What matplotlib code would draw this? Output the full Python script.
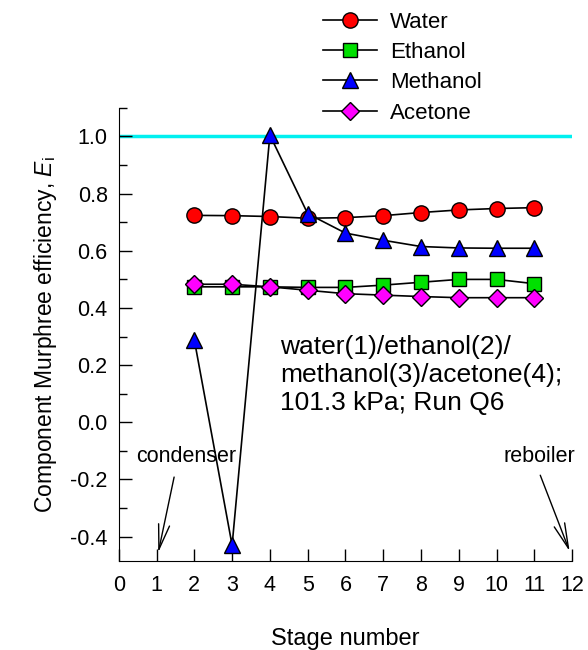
import matplotlib
matplotlib.use("Agg")
import matplotlib.pyplot as plt
from matplotlib.ticker import MultipleLocator

plt.rcParams['font.family'] = ['Liberation Sans', 'DejaVu Sans']
plt.rcParams['axes.unicode_minus'] = False
plt.rcParams['mathtext.fontset'] = 'custom'
plt.rcParams['mathtext.it'] = 'Liberation Sans:italic'
plt.rcParams['mathtext.rm'] = 'Liberation Sans'

stages = [2, 3, 4, 5, 6, 7, 8, 9, 10, 11]
water = [0.724, 0.723, 0.720, 0.714, 0.716, 0.723, 0.734, 0.743, 0.748, 0.751]
ethanol = [0.474, 0.474, 0.474, 0.472, 0.472, 0.480, 0.490, 0.500, 0.500, 0.485]
methanol = [0.288, -0.43, 1.005, 0.73, 0.662, 0.637, 0.615, 0.610, 0.609, 0.609]
acetone = [0.483, 0.483, 0.474, 0.462, 0.450, 0.445, 0.440, 0.436, 0.436, 0.436]

fig = plt.figure(figsize=(5.88, 6.5), dpi=100)
ax = fig.add_axes([0.202, 0.137, 0.771, 0.697])

ax.axhline(1.0, color='#00f0f0', lw=2.5, zorder=1)

line = dict(color='black', lw=1.2, markeredgecolor='black', markeredgewidth=1)
ax.plot(stages, water, marker='o', markersize=11, markerfacecolor='red', label='Water', **line)
ax.plot(stages, ethanol, marker='s', markersize=10, markerfacecolor='#00e000', label='Ethanol', **line)
ax.plot(stages, methanol, marker='^', markersize=11, markerfacecolor='blue', label='Methanol', **line)
ax.plot(stages, acetone, marker='D', markersize=9.5, markerfacecolor='magenta', label='Acetone', **line)

ax.set_xlim(0, 12)
ax.set_ylim(-0.485, 1.1)
ax.xaxis.set_major_locator(MultipleLocator(1))
ax.yaxis.set_major_locator(MultipleLocator(0.2))
ax.yaxis.set_minor_locator(MultipleLocator(0.1))
ax.yaxis.set_major_formatter(matplotlib.ticker.FormatStrFormatter('%.1f'))
ax.tick_params(direction='in', length=9, width=1, labelsize=15.5, pad=10)
ax.tick_params(axis='y', pad=8)
ax.tick_params(which='minor', direction='in', length=6, width=1)
ax.spines['top'].set_visible(False)
ax.spines['right'].set_visible(False)

ax.set_xlabel('Stage number', fontsize=17, labelpad=23)
ax.set_ylabel('Component Murphree efficiency, $E_\\mathrm{i}$', fontsize=16.5, labelpad=8)

ax.text(4.27, 0.166, 'water(1)/ethanol(2)/\nmethanol(3)/acetone(4);\n101.3 kPa; Run Q6',
        fontsize=19, va='center', ha='left', linespacing=1.22)

arrow = dict(arrowstyle='->,head_length=1.8,head_width=0.4', color='black', lw=1)
ax.text(1.78, -0.12, 'condenser', fontsize=15.5, ha='center', va='center')
ax.annotate('', xy=(1.03, -0.465), xytext=(1.48, -0.182), arrowprops=arrow)
ax.text(11.14, -0.12, 'reboiler', fontsize=15.5, ha='center', va='center')
ax.annotate('', xy=(11.96, -0.46), xytext=(11.13, -0.176), arrowprops=arrow)

fig.legend(loc='upper left', bbox_to_anchor=(0.516, 1.013), frameon=False, fontsize=16,
           handlelength=2.4, labelspacing=0.42, handletextpad=0.6)

fig.savefig('out.png', dpi=100)
